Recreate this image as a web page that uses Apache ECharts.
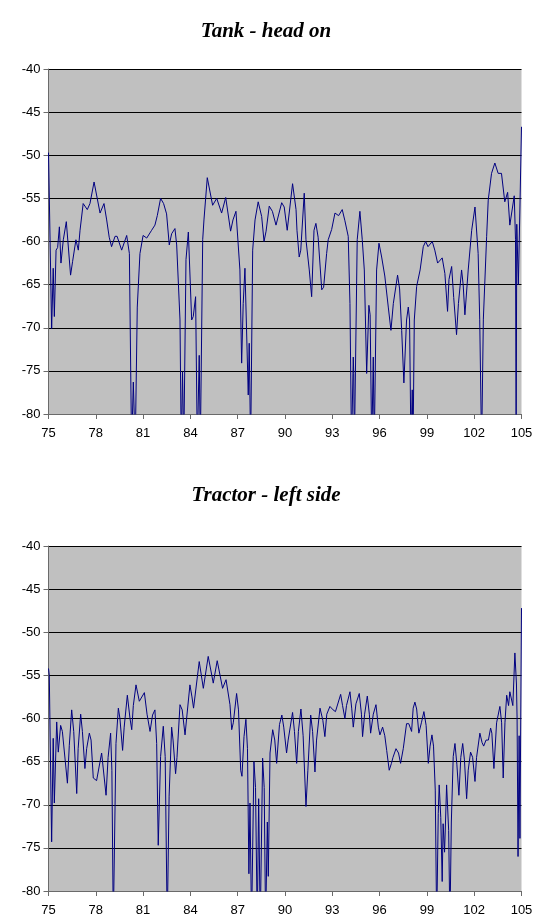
<!DOCTYPE html>
<html>
<head>
<meta charset="utf-8">
<script src="https://cdn.jsdelivr.net/npm/echarts@6/dist/echarts.min.js"></script>
<style>
html,body{margin:0;padding:0;background:#fff;}
#chart{width:544px;height:919px;}
</style>
</head>
<body>
<div id="chart"></div>
<script>
const titles = ['Tank - head on', 'Tractor - left side'];
const xTickMin = 75, xTickMax = 105, xTickStep = 3;
const yTickMin = -80, yTickMax = -40, yTickStep = 5;

const tankX = [75.00,75.20,75.30,75.37,75.48,75.58,75.69,75.79,75.94,76.13,76.40,76.53,76.60,76.74,76.89,77.00,77.20,77.46,77.63,77.89,78.27,78.52,78.69,78.85,79.00,79.22,79.35,79.64,79.96,80.13,80.27,80.38,80.50,80.63,80.80,81.00,81.23,81.54,81.75,81.90,82.11,82.30,82.49,82.66,82.81,83.02,83.13,83.34,83.42,83.50,83.58,83.72,83.87,84.08,84.18,84.33,84.44,84.56,84.63,84.78,84.86,85.07,85.41,85.67,85.98,86.24,86.55,86.70,86.89,87.14,87.25,87.35,87.46,87.55,87.67,87.73,87.82,87.95,88.10,88.30,88.52,88.67,88.80,89.00,89.20,89.43,89.55,89.79,89.95,90.14,90.48,90.70,90.76,90.90,91.00,91.22,91.33,91.54,91.69,91.84,91.96,92.10,92.33,92.45,92.64,92.74,92.96,93.17,93.40,93.63,93.80,94.01,94.12,94.22,94.33,94.36,94.40,94.58,94.75,94.90,95.03,95.18,95.32,95.40,95.50,95.60,95.66,95.81,95.96,96.13,96.33,96.55,96.72,96.87,97.14,97.27,97.40,97.54,97.71,97.82,97.90,97.99,98.07,98.12,98.20,98.35,98.57,98.77,98.92,99.07,99.34,99.50,99.68,99.97,100.14,100.31,100.40,100.57,100.70,100.88,101.00,101.20,101.30,101.41,101.62,101.84,102.05,102.25,102.35,102.47,102.58,102.79,102.89,103.10,103.31,103.52,103.73,103.94,104.12,104.26,104.38,104.54,104.62,104.66,104.70,104.80,104.90,105.00];
const tankY = [-49.7,-70.1,-63.1,-68.7,-61.0,-60.7,-58.3,-62.5,-59.8,-57.7,-63.9,-62.3,-62.3,-59.8,-61.0,-58.7,-55.6,-56.3,-55.6,-53.1,-56.7,-55.6,-57.5,-59.5,-60.6,-59.4,-59.4,-61.0,-59.3,-61.4,-84,-76.3,-84,-67.6,-61.4,-59.3,-59.6,-58.7,-58.1,-57.0,-55.0,-55.6,-56.8,-60.4,-59.1,-58.5,-60.4,-69.1,-84,-75.1,-84,-62.1,-58.9,-69.1,-68.7,-66.4,-84,-73.2,-84,-59.8,-57.5,-52.6,-55.8,-55.0,-56.7,-54.9,-58.8,-57.5,-56.5,-63.3,-74.1,-67.2,-63.1,-63.3,-77.8,-71.8,-84,-61.0,-57.5,-55.4,-57.1,-60.0,-58.8,-55.9,-56.5,-58.1,-58.0,-55.5,-56.0,-58.7,-53.3,-56.3,-58.7,-61.8,-61.0,-54.4,-59.8,-63.3,-66.4,-58.7,-57.9,-59.5,-65.6,-65.3,-61.4,-59.8,-58.6,-56.7,-57.0,-56.3,-57.6,-59.4,-67.2,-84,-73.4,-75.3,-84,-59.8,-56.5,-59.8,-63.3,-75.3,-67.4,-68.5,-84,-73.4,-84,-63.3,-60.2,-61.8,-64.0,-67.6,-70.3,-67.2,-63.9,-65.5,-70.3,-76.4,-69.1,-67.6,-69.1,-84,-77.2,-84,-69.1,-65.2,-63.3,-60.6,-60.0,-60.6,-60.0,-61.0,-62.5,-61.9,-63.7,-68.1,-64.4,-62.9,-66.5,-70.8,-67.2,-63.3,-65.0,-68.5,-63.3,-58.7,-56.0,-61.4,-69.0,-84,-69.0,-59.4,-55.2,-52.1,-50.9,-52.1,-52.1,-55.4,-54.3,-58.1,-58.3,-54.7,-59.8,-84,-58.0,-65.0,-56.0,-46.7];

const tractorX = [75.00,75.05,75.20,75.30,75.37,75.52,75.62,75.77,75.88,75.98,76.20,76.32,76.47,76.60,76.79,76.88,77.04,77.15,77.31,77.42,77.59,77.70,77.84,78.05,78.17,78.37,78.45,78.65,78.78,78.94,79.02,79.11,79.28,79.43,79.53,79.70,79.80,80.00,80.17,80.28,80.38,80.55,80.76,81.08,81.25,81.44,81.60,81.75,81.86,81.96,82.11,82.28,82.40,82.53,82.65,82.81,82.90,83.06,83.15,83.34,83.48,83.66,83.76,83.97,84.10,84.20,84.56,84.82,85.13,85.45,85.70,86.04,86.26,86.51,86.62,86.72,86.93,87.05,87.19,87.27,87.40,87.52,87.62,87.71,87.78,87.88,88.03,88.13,88.24,88.33,88.43,88.58,88.68,88.77,88.88,88.94,89.05,89.22,89.35,89.47,89.65,89.80,89.92,90.10,90.20,90.48,90.60,90.74,90.85,91.01,91.15,91.33,91.45,91.63,91.75,91.90,92.00,92.22,92.40,92.53,92.65,92.85,93.05,93.20,93.53,93.65,93.80,93.90,94.12,94.23,94.33,94.50,94.71,94.85,94.92,95.05,95.22,95.35,95.43,95.60,95.77,95.92,96.02,96.19,96.33,96.45,96.61,96.75,96.85,97.04,97.20,97.33,97.50,97.71,97.85,98.03,98.13,98.24,98.35,98.49,98.65,98.81,98.95,99.09,99.20,99.32,99.42,99.53,99.62,99.72,99.78,99.88,99.97,100.03,100.12,100.18,100.25,100.38,100.46,100.55,100.67,100.78,100.90,101.03,101.15,101.27,101.38,101.52,101.62,101.77,101.90,102.05,102.15,102.36,102.50,102.60,102.75,102.90,103.04,103.12,103.25,103.42,103.63,103.74,103.84,103.95,104.06,104.18,104.26,104.37,104.45,104.58,104.68,104.72,104.78,104.85,104.90,105.00];
const tractorY = [-54.2,-55.0,-74.3,-62.3,-69.8,-60.4,-63.9,-60.8,-61.5,-61.3,-67.5,-63.1,-59.0,-61.5,-68.7,-63.5,-59.5,-61.5,-65.8,-63.5,-61.7,-62.5,-66.9,-67.2,-67.2,-64.0,-64.0,-68.9,-64.5,-61.7,-66.0,-84,-62.9,-58.8,-60.0,-63.7,-61.0,-57.3,-60.0,-61.3,-58.5,-56.1,-58.0,-57.0,-59.5,-61.5,-59.6,-59.0,-62.9,-74.7,-64.4,-60.9,-64.4,-84,-69.0,-61.0,-62.5,-66.4,-64.5,-58.4,-59.0,-61.9,-60.0,-56.1,-57.5,-58.8,-53.4,-56.5,-52.8,-55.9,-53.3,-56.5,-55.5,-58.4,-61.3,-60.5,-57.1,-59.0,-66.0,-66.7,-62.1,-60.1,-63.5,-78.0,-69.8,-84,-65.0,-68.0,-84,-69.3,-84,-64.6,-68.0,-84,-72.0,-78.3,-64.0,-61.3,-62.5,-65.2,-60.7,-59.6,-61.0,-64.0,-62.5,-59.3,-61.5,-65.2,-61.5,-58.9,-62.0,-70.2,-66.0,-59.6,-61.5,-66.2,-62.5,-58.8,-60.2,-62.1,-59.5,-58.6,-59.0,-59.2,-57.2,-58.5,-60.0,-58.5,-56.9,-58.8,-61.0,-58.3,-57.1,-59.5,-62.1,-59.5,-57.4,-59.5,-61.7,-59.5,-58.4,-61.0,-61.9,-61.0,-62.0,-63.7,-66.0,-65.2,-64.5,-63.5,-64.0,-65.2,-63.5,-60.6,-60.6,-61.5,-58.8,-58.1,-58.9,-61.7,-60.5,-59.2,-60.8,-65.2,-63.2,-61.9,-63.2,-68.3,-84,-71.0,-67.7,-71.5,-78.9,-72.2,-75.5,-72.0,-67.7,-73.0,-84,-72.0,-64.4,-62.9,-65.3,-68.9,-64.5,-62.9,-64.8,-69.3,-66.0,-63.9,-64.5,-67.3,-64.5,-61.7,-62.8,-63.2,-62.5,-62.5,-61.1,-61.7,-65.8,-60.5,-58.6,-60.5,-66.9,-60.5,-57.3,-58.5,-56.9,-57.1,-58.5,-52.4,-56.0,-60.0,-76.0,-62.0,-73.9,-47.2];

function pairs(xs, ys){ return xs.map((x,i)=>[x, ys[i]]); }

const chart = echarts.init(document.getElementById('chart'), null, {renderer:'canvas'});
const gridTops = [69, 546];
const titleTops = [21, 485];
const labelFont = 'Liberation Sans, Arial, sans-serif';

function xAxisCfg(i){
  return {
    type:'value', gridIndex:i, min:xTickMin, max:xTickMax, interval:xTickStep,
    axisLine:{show:true, onZero:false, lineStyle:{color:'#6a6a6a', width:1}},
    axisTick:{show:true, length:5, lineStyle:{color:'#6a6a6a'}},
    splitLine:{show:false},
    axisLabel:{color:'#000', fontSize:13, fontFamily:labelFont, margin:13}
  };
}
function yAxisCfg(i){
  return {
    type:'value', gridIndex:i, min:yTickMin, max:yTickMax, interval:yTickStep,
    axisLine:{show:true, onZero:false, lineStyle:{color:'#6a6a6a', width:1}},
    axisTick:{show:true, length:5, lineStyle:{color:'#6a6a6a'}},
    splitLine:{show:true, lineStyle:{color:'#000', width:1}},
    axisLabel:{color:'#000', fontSize:13, fontFamily:labelFont, margin:8}
  };
}

chart.setOption({
  animation:false,
  backgroundColor:'#fff',
  title: titles.map((t,i)=>({
    text:t, left:266, textAlign:'center', top:titleTops[i], padding:0,
    textStyle:{fontFamily:'Liberation Serif, Times New Roman, serif', fontStyle:'italic', fontWeight:'bold', fontSize:21, color:'#000'}
  })),
  grid: gridTops.map(t=>({left:48.5, top:t, width:473, height:345, show:true, backgroundColor:'#c0c0c0', borderWidth:0})),
  xAxis:[xAxisCfg(0), xAxisCfg(1)],
  yAxis:[yAxisCfg(0), yAxisCfg(1)],
  series:[
    {type:'line', xAxisIndex:0, yAxisIndex:0, data:pairs(tankX,tankY), showSymbol:false, clip:true, lineStyle:{color:'#000080', width:1}},
    {type:'line', xAxisIndex:1, yAxisIndex:1, data:pairs(tractorX,tractorY), showSymbol:false, clip:true, lineStyle:{color:'#000080', width:1}}
  ]
});
</script>
</body>
</html>
